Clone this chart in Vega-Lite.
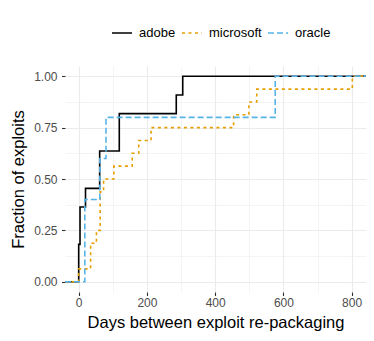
{
  "$schema": "https://vega.github.io/schema/vega-lite/v6.json",
  "autosize": "none",
  "width": 301,
  "height": 226,
  "padding": {"left": 65, "top": 66, "right": 8, "bottom": 49},
  "background": "white",
  "config": {
    "view": {"stroke": null},
    "font": "Liberation Sans",
    "axis": {
      "domain": false,
      "gridColor": "#EBEBEB",
      "tickColor": "#333333",
      "tickSize": 3.5,
      "tickWidth": 1.1,
      "labelColor": "#4D4D4D",
      "labelFontSize": 12,
      "titleFontSize": 16.5,
      "titleFontWeight": "normal",
      "titleColor": "#000000"
    }
  },
  "data": {
    "values": [
      {"vendor": "adobe", "days": -40.1, "frac": 0},
      {"vendor": "adobe", "days": 0, "frac": 0.1818},
      {"vendor": "adobe", "days": 3.9, "frac": 0.3636},
      {"vendor": "adobe", "days": 20, "frac": 0.4545},
      {"vendor": "adobe", "days": 61.5, "frac": 0.6364},
      {"vendor": "adobe", "days": 119, "frac": 0.8182},
      {"vendor": "adobe", "days": 286, "frac": 0.9091},
      {"vendor": "adobe", "days": 305, "frac": 1.0},
      {"vendor": "adobe", "days": 842.1, "frac": 1.0},
      {"vendor": "microsoft", "days": -40.1, "frac": 0},
      {"vendor": "microsoft", "days": 0, "frac": 0.0625},
      {"vendor": "microsoft", "days": 35, "frac": 0.1875},
      {"vendor": "microsoft", "days": 52, "frac": 0.25},
      {"vendor": "microsoft", "days": 63, "frac": 0.4375},
      {"vendor": "microsoft", "days": 73, "frac": 0.5},
      {"vendor": "microsoft", "days": 103, "frac": 0.5625},
      {"vendor": "microsoft", "days": 157, "frac": 0.625},
      {"vendor": "microsoft", "days": 176, "frac": 0.6875},
      {"vendor": "microsoft", "days": 212, "frac": 0.75},
      {"vendor": "microsoft", "days": 454, "frac": 0.8125},
      {"vendor": "microsoft", "days": 499, "frac": 0.875},
      {"vendor": "microsoft", "days": 522, "frac": 0.9375},
      {"vendor": "microsoft", "days": 802, "frac": 1.0},
      {"vendor": "microsoft", "days": 842.1, "frac": 1.0},
      {"vendor": "oracle", "days": -40.1, "frac": 0},
      {"vendor": "oracle", "days": 18, "frac": 0.4},
      {"vendor": "oracle", "days": 62, "frac": 0.6},
      {"vendor": "oracle", "days": 80, "frac": 0.8},
      {"vendor": "oracle", "days": 576, "frac": 1.0},
      {"vendor": "oracle", "days": 842.1, "frac": 1.0}
    ]
  },
  "mark": {"type": "line", "interpolate": "step-after", "strokeWidth": 1.6, "clip": true},
  "encoding": {
    "x": {
      "field": "days",
      "type": "quantitative",
      "scale": {"domain": [-40.1, 842.1], "nice": false, "zero": false},
      "axis": {
        "title": "Days between exploit re-packaging",
        "values": [0, 100, 200, 300, 400, 500, 600, 700, 800],
        "labelExpr": "datum.value % 200 === 0 ? datum.label : ''",
        "labelPadding": 2,
        "titlePadding": 6,
        "gridWidth": {"condition": {"test": "datum.value % 200 === 0", "value": 1.1}, "value": 0.55},
        "tickOpacity": {"condition": {"test": "datum.value % 200 === 0", "value": 1}, "value": 0}
      }
    },
    "y": {
      "field": "frac",
      "type": "quantitative",
      "scale": {"domain": [-0.05, 1.05], "nice": false, "zero": false},
      "axis": {
        "title": "Fraction of exploits",
        "values": [0, 0.125, 0.25, 0.375, 0.5, 0.625, 0.75, 0.875, 1.0],
        "format": ".2f",
        "labelExpr": "(datum.value * 4) % 1 === 0 ? datum.label : ''",
        "labelPadding": 4.5,
        "titlePadding": 7,
        "gridWidth": {"condition": {"test": "(datum.value * 4) % 1 === 0", "value": 1.1}, "value": 0.55},
        "tickOpacity": {"condition": {"test": "(datum.value * 4) % 1 === 0", "value": 1}, "value": 0}
      }
    },
    "color": {
      "field": "vendor",
      "type": "nominal",
      "scale": {"domain": ["adobe", "microsoft", "oracle"], "range": ["#000000", "#E69F00", "#56B4E9"]},
      "legend": {
        "title": null,
        "orient": "none",
        "direction": "horizontal",
        "legendX": 46,
        "legendY": -44,
        "symbolType": "stroke",
        "symbolSize": 400,
        "symbolStrokeWidth": 1.6,
        "labelFontSize": 13,
        "labelColor": "#000000",
        "labelOffset": 6,
        "columnPadding": 2
      }
    },
    "strokeDash": {
      "field": "vendor",
      "type": "nominal",
      "scale": {"domain": ["adobe", "microsoft", "oracle"], "range": [[1, 0], [3, 3.5], [6, 3]]},
      "legend": {
        "title": null,
        "orient": "none",
        "direction": "horizontal",
        "legendX": 46,
        "legendY": -44,
        "symbolType": "stroke",
        "symbolSize": 400,
        "symbolStrokeWidth": 1.6,
        "labelFontSize": 13,
        "labelColor": "#000000",
        "labelOffset": 6,
        "columnPadding": 2
      }
    }
  }
}
